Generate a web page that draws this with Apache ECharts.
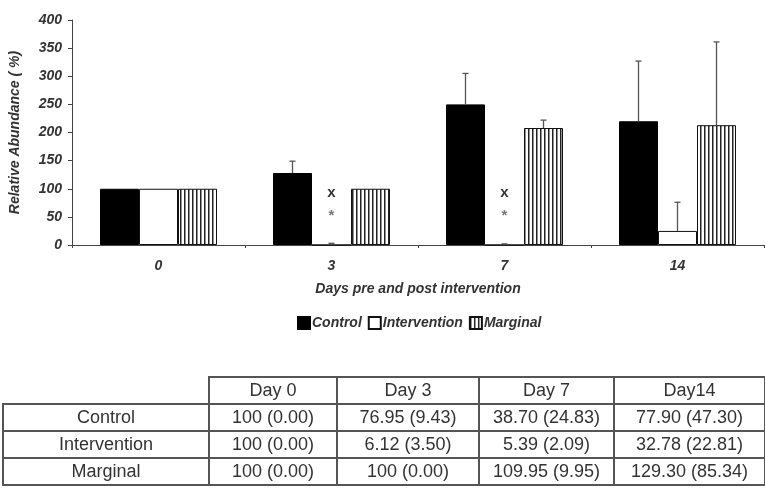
<!DOCTYPE html>
<html>
<head>
<meta charset="utf-8">
<script src="https://cdn.jsdelivr.net/npm/echarts@6/dist/echarts.min.js"></script>
<style>
  html, body { margin: 0; padding: 0; background: #fff; }
  #wrap { position: relative; width: 765px; height: 492px; }
  #chart { position: absolute; left: 0; top: 0; width: 765px; height: 492px; }
  #tbl {
    position: absolute; left: 2px; top: 376px; width: 762px;
    border-collapse: collapse; table-layout: fixed;
    font-family: "Liberation Sans", Arial, sans-serif; font-size: 18px; color: #333;
  }
  #tbl td { border: 2px solid #555; text-align: center; padding: 0; height: 25px; line-height: 25px; white-space: nowrap; }
  #tbl td.blank { border-top: none; border-left: none; }
</style>
</head>
<body>
<div id="wrap">
  <div id="chart"></div>
  <table id="tbl"></table>
</div>
<script>
// chart values
const days = ['0', '3', '7', '14'];
const controlMean = [100, 128, 250, 220];
const controlErr = [0, 21, 55, 107];
const interventionMean = [100, 0, 0, 25];
const interventionErr = [0, 3, 2, 51];
const marginalMean = [100, 100, 208, 213];
const marginalErr = [0, 0, 14, 148];
const sigDays = ['3', '7'];
const yTicks = [0, 50, 100, 150, 200, 250, 300, 350, 400];

// table below the chart
const tableHeads = ['Day 0', 'Day 3', 'Day 7', 'Day14'];
const tableRowNames = ['Control', 'Intervention', 'Marginal'];
const controlCells = ['100 (0.00)', '76.95 (9.43)', '38.70 (24.83)', '77.90 (47.30)'];
const interventionCells = ['100 (0.00)', '6.12 (3.50)', '5.39 (2.09)', '32.78 (22.81)'];
const marginalCells = ['100 (0.00)', '100 (0.00)', '109.95 (9.95)', '129.30 (85.34)'];

const BAR_W = 39;
const FONT = '"Liberation Sans", Arial, sans-serif';

function buildTable() {
  const widths = [206, 128, 142, 135, 151];
  let html = '<colgroup>' + widths.map(w => '<col style="width:' + w + 'px">').join('') + '</colgroup>';
  html += '<tr><td class="blank"></td>' + tableHeads.map(h => '<td>' + h + '</td>').join('') + '</tr>';
  const rows = [controlCells, interventionCells, marginalCells];
  rows.forEach((cells, i) => {
    html += '<tr><td>' + tableRowNames[i] + '</td>' + cells.map(c => '<td>' + c + '</td>').join('') + '</tr>';
  });
  document.getElementById('tbl').innerHTML = html;
}

function stripePattern() {
  const c = document.createElement('canvas');
  c.width = 4; c.height = 4;
  const ctx = c.getContext('2d');
  ctx.fillStyle = '#fff';
  ctx.fillRect(0, 0, 4, 4);
  ctx.fillStyle = '#222';
  ctx.fillRect(0, 0, 1.5, 4);
  return c;
}

function errorSeries(name, means, errs, slot) {
  return {
    type: 'custom',
    name: name + ' err',
    z: 5,
    silent: true,
    data: means.map((m, i) => [i, m, errs[i]]),
    renderItem(params, api) {
      const err = api.value(2);
      if (!err) return;
      const mean = api.value(1);
      const base = api.coord([api.value(0), mean]);
      const top = api.coord([api.value(0), mean + err]);
      const x = base[0] + slot * BAR_W;
      const st = { stroke: '#555', lineWidth: 1.3 };
      return {
        type: 'group',
        children: [
          { type: 'line', shape: { x1: x, y1: base[1], x2: x, y2: top[1] }, style: st },
          { type: 'line', shape: { x1: x - 3, y1: top[1], x2: x + 3, y2: top[1] }, style: st }
        ]
      };
    }
  };
}

function initChart() {
  const chart = echarts.init(document.getElementById('chart'));
  const stripes = { image: stripePattern(), repeat: 'repeat' };
  const labelStyle = { fontFamily: FONT, fontWeight: 'bold', fontStyle: 'italic', fontSize: 14, color: '#333' };

  chart.setOption({
    animation: false,
    textStyle: { fontFamily: FONT },
    grid: { left: 72, right: 1, top: 20, bottom: 247 },
    legend: {
      data: ['Control', 'Intervention', 'Marginal'],
      top: 311,
      left: 292,
      icon: 'rect',
      itemWidth: 12,
      itemHeight: 12,
      itemGap: 6,
      textStyle: { fontFamily: FONT, fontWeight: 'bold', fontStyle: 'italic', fontSize: 14, color: '#333', padding: [0, 0, 0, -3] }
    },
    xAxis: {
      type: 'category',
      data: days,
      name: 'Days pre and post intervention',
      nameLocation: 'middle',
      nameGap: 37,
      nameTextStyle: { fontFamily: FONT, fontWeight: 'bold', fontStyle: 'italic', fontSize: 14, color: '#333' },
      axisLine: { lineStyle: { color: '#444', width: 1 } },
      axisTick: { show: true, length: 3, interval: 0, lineStyle: { color: '#444' } },
      axisLabel: Object.assign({ margin: 14 }, labelStyle)
    },
    yAxis: {
      type: 'value',
      min: yTicks[0],
      max: yTicks[yTicks.length - 1],
      interval: 50,
      name: 'Relative Abundance ( %)',
      nameLocation: 'middle',
      nameGap: 50,
      nameTextStyle: { fontFamily: FONT, fontWeight: 'bold', fontStyle: 'italic', fontSize: 14, color: '#333' },
      axisLine: { show: true, lineStyle: { color: '#444', width: 1 } },
      axisTick: { show: true, length: 4, lineStyle: { color: '#444' } },
      splitLine: { show: false },
      axisLabel: Object.assign({ margin: 10 }, labelStyle)
    },
    series: [
      {
        type: 'bar', name: 'Control', data: controlMean,
        barWidth: BAR_W, barGap: '0%',
        itemStyle: { color: '#000', borderColor: '#000', borderWidth: 1 }
      },
      {
        type: 'bar', name: 'Intervention', data: interventionMean,
        barWidth: BAR_W, barGap: '0%',
        itemStyle: { color: '#fff', borderColor: '#111', borderWidth: 1 }
      },
      {
        type: 'bar', name: 'Marginal', data: marginalMean,
        barWidth: BAR_W, barGap: '0%',
        itemStyle: { color: stripes, borderColor: '#111', borderWidth: 1 }
      },
      errorSeries('Control', controlMean, controlErr, -1),
      errorSeries('Intervention', interventionMean, interventionErr, 0),
      errorSeries('Marginal', marginalMean, marginalErr, 1),
      {
        type: 'custom',
        name: 'significance',
        z: 6,
        silent: true,
        data: sigDays.map(d => [days.indexOf(d)]),
        renderItem(params, api) {
          const xMark = api.coord([api.value(0), 92]);
          const star = api.coord([api.value(0), 57]);
          return {
            type: 'group',
            children: [
              { type: 'text', x: xMark[0], y: xMark[1], style: { text: 'x', font: 'bold 15px ' + FONT, fill: '#333', align: 'center', verticalAlign: 'middle' } },
              { type: 'text', x: star[0], y: star[1] + 3, style: { text: '*', font: 'bold 15px ' + FONT, fill: '#777', align: 'center', verticalAlign: 'middle' } }
            ]
          };
        }
      }
    ]
  });
}

buildTable();
initChart();
</script>
</body>
</html>
